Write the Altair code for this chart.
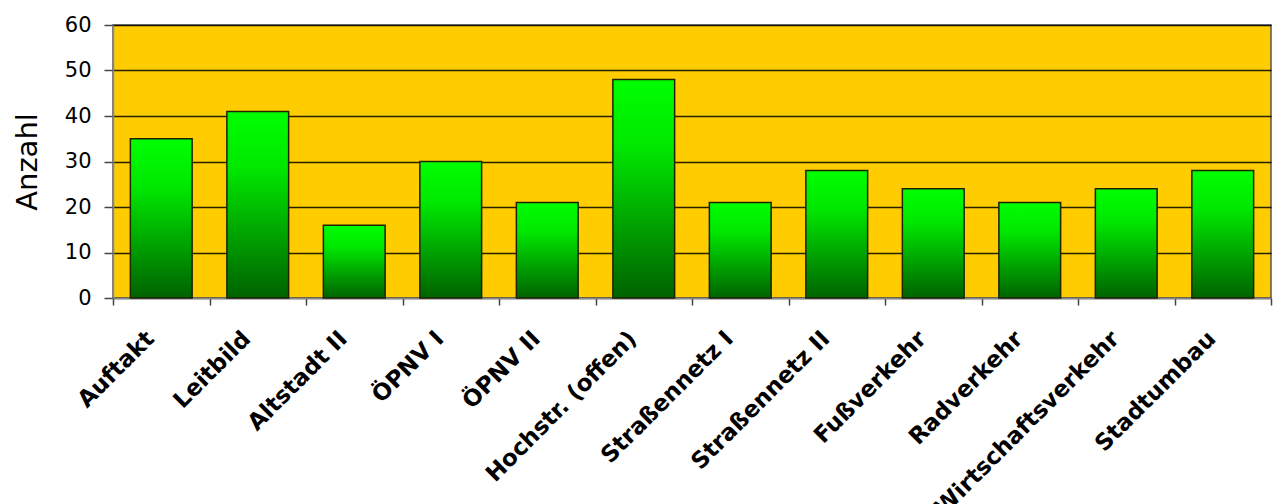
import altair as alt
import pandas as pd

# Number of participants per workshop session
sessions = ["Auftakt", "Leitbild", "Altstadt II", "ÖPNV I", "ÖPNV II",
            "Hochstr. (offen)", "Straßennetz I", "Straßennetz II",
            "Fußverkehr", "Radverkehr", "Wirtschaftsverkehr", "Stadtumbau"]
counts = [35, 41, 16, 30, 21, 48, 21, 28, 24, 21, 24, 28]
y_ticks = [0, 10, 20, 30, 40, 50, 60]

df = pd.DataFrame({"Sitzung": sessions, "Anzahl": counts})

FONT = "DejaVu Sans"

green_fade = alt.Gradient(
    gradient="linear",
    stops=[alt.GradientStop(color="#00FF00", offset=0),
           alt.GradientStop(color="#00E800", offset=0.3),
           alt.GradientStop(color="#006200", offset=1)],
    x1=0, x2=0, y1=0, y2=1,
)

chart = alt.Chart(df).mark_bar(
    color=green_fade, stroke="#1e2200", strokeWidth=1.5,
    width=alt.RelativeBandSize(0.64),
).encode(
    x=alt.X("Sitzung:N", sort=sessions, title=None,
            scale=alt.Scale(paddingInner=0, paddingOuter=0),
            axis=alt.Axis(labelAngle=-45, labelFont=FONT,
                          labelFontWeight="bold", labelFontSize=23,
                          labelColor="#000", labelPadding=22, labelOffset=-19,
                          labelLimit=400,
                          tickBand="extent", tickSize=7, tickColor="#444",
                          tickWidth=1.5,
                          domainColor="#888", domainWidth=1.5,
                          grid=False, labelOverlap=False)),
    y=alt.Y("Anzahl:Q", title="Anzahl",
            scale=alt.Scale(domain=[0, 60], nice=False),
            axis=alt.Axis(values=y_ticks, labelFont=FONT,
                          labelFontSize=21, labelColor="#000", labelPadding=13,
                          tickSize=9, tickColor="#444", tickWidth=1.5,
                          domainColor="#888", domainWidth=1.5,
                          gridColor="#000", gridWidth=1.5, gridOpacity=0.85,
                          titleFont=FONT, titleFontSize=29,
                          titleFontWeight="normal", titleColor="#000",
                          titlePadding=22)),
).properties(
    width=1158, height=273,
    background="white",
    padding={"left": 113, "top": 25, "right": 2, "bottom": 206},
    autosize=alt.AutoSizeParams(type="none"),
).configure_view(
    fill="#FFCC00", stroke="#555", strokeWidth=1.5
)

chart.save("out.html", embed_options={"renderer": "svg", "actions": False})
